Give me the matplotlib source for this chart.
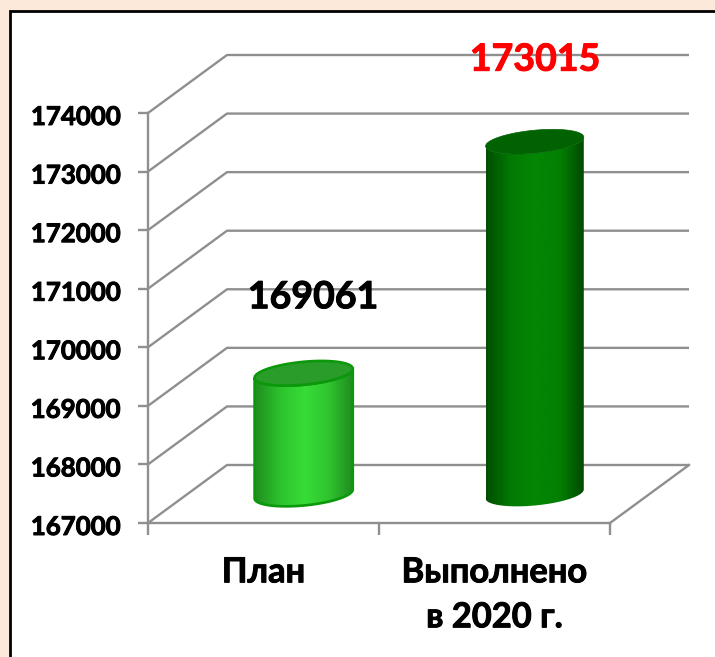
import numpy as np
import matplotlib
matplotlib.use("Agg")
import matplotlib.pyplot as plt
import matplotlib.patheffects as pe
from matplotlib.colors import LinearSegmentedColormap
from matplotlib.patches import Polygon, Rectangle
from matplotlib.transforms import ScaledTranslation

categories = ["План", "Выполнено\nв 2020 г."]
values = [169061, 173015]
y_ticks = [167000, 168000, 169000, 170000, 171000, 172000, 173000, 174000]
label_colors = ["black", "red"]

W, H = 715, 657
plt.rcParams["font.family"] = ["Lato", "Open Sans", "DejaVu Sans"]
plt.rcParams["font.weight"] = "bold"

GRID = "#8f8f8f"
DEPTH_PX = (79, 58)      # depth of the fake 3d box
BAR_W = 0.425
SEMI_B = 11.5            # ellipse half height, px
TILT = 4.5               # ellipse tilt, px


def heavy(color):
    # bold in the reference is a bit darker than Lato bold
    return [pe.withStroke(linewidth=0.7, foreground=color)]


fig = plt.figure(figsize=(W / 100, H / 100), dpi=100, facecolor="#fce9da")
fig.add_artist(Rectangle((9.5 / W, -0.01), (W + 5) / W, (H - 11) / H + 0.01,
                         transform=fig.transFigure, facecolor="white",
                         edgecolor="black", linewidth=2, zorder=-1))

ax = fig.add_axes([148 / W, 1 - 523 / H, 462 / W, 410 / H])
ax.set_xlim(-0.5, 1.5)
ax.set_ylim(y_ticks[0], y_ticks[-1])
ax.patch.set_alpha(0)

px_x = (ax.get_xlim()[1] - ax.get_xlim()[0]) / 462
px_y = (ax.get_ylim()[1] - ax.get_ylim()[0]) / 410
dx, dy = DEPTH_PX[0] * px_x, DEPTH_PX[1] * px_y
x0, x1 = ax.get_xlim()

# --- box ---
for v in y_ticks:
    ax.plot([x0, x0 + dx, x1 + dx], [v, v + dy, v + dy], color=GRID, lw=1.7,
            clip_on=False, solid_capstyle="butt", zorder=1)
ax.plot([x1, x1 + dx], [y_ticks[0], y_ticks[0] + dy], color=GRID, lw=1.7, clip_on=False, zorder=1)

# --- cylinders ---
light = LinearSegmentedColormap.from_list("l", ["#1f8f1f", "#2cc22c", "#37dc37", "#2fc42f", "#1e8a1e"])
dark = LinearSegmentedColormap.from_list("d", ["#004d00", "#037a03", "#038703", "#037e03", "#004800"])
tops = ["#2a9c2a", "#006200"]
edges = ["#0b980b", None]
cmaps = [light, dark]
t = np.linspace(0, 2 * np.pi, 121)
ramp = np.linspace(0, 1, 256).reshape(1, -1)

for i, v in enumerate(values):
    cx = i + dx / 2 + 0.003
    base = y_ticks[0] + dy / 2
    top = base + (v - y_ticks[0])
    ex = BAR_W / 2 * np.cos(t)
    ey = (TILT * np.cos(t) + SEMI_B * np.sin(t)) * px_y
    lower = t[60:]
    lx = BAR_W / 2 * np.cos(lower)
    ly = (TILT * np.cos(lower) + SEMI_B * np.sin(lower)) * px_y
    # body: lower half of the bottom ellipse, then back across the top
    body_x = np.r_[cx + lx, cx + lx[::-1]]
    body_y = np.r_[base + ly, top + ly[::-1]]
    body = Polygon(np.c_[body_x, body_y], closed=True, transform=ax.transData,
                   facecolor="none", edgecolor=edges[i] or "none", lw=1.9, zorder=4, clip_on=False)
    ax.add_patch(body)
    im = ax.imshow(ramp, cmap=cmaps[i], aspect="auto", zorder=3,
                   extent=[cx - BAR_W / 2, cx + BAR_W / 2, y_ticks[0], y_ticks[-1]])
    im.set_clip_path(body)
    ax.add_patch(Polygon(np.c_[cx + ex, top + ey], closed=True, facecolor=tops[i],
                         edgecolor=edges[i] or tops[i], lw=1.9 if edges[i] else 0.5,
                         zorder=5, clip_on=False))
ax.set_xlim(x0, x1)
ax.set_ylim(y_ticks[0], y_ticks[-1])

# --- labels on bars ---
offsets = [(10, 76), (1, 82)]
for i, v in enumerate(values):
    ax.annotate(str(v), (i + dx / 2, v + dy / 2), xytext=offsets[i], textcoords="offset pixels",
                ha="center", va="center", fontsize=27, color=label_colors[i],
                annotation_clip=False, zorder=6, path_effects=heavy(label_colors[i]))

# --- axes ---
for s in ("top", "right"):
    ax.spines[s].set_visible(False)
for s in ("left", "bottom"):
    ax.spines[s].set_color(GRID)
    ax.spines[s].set_linewidth(1.7)
ax.set_yticks(y_ticks)
ax.set_yticklabels([str(v) for v in y_ticks], fontsize=18.6, path_effects=heavy("black"))
ax.tick_params(axis="y", length=7, width=1.7, color=GRID, pad=12.5)
shift = ScaledTranslation(0, -2 / 100, fig.dpi_scale_trans)
for lbl in ax.get_yticklabels():
    lbl.set_transform(lbl.get_transform() + shift)
ax.set_xticks([-0.5, 0.5, 1.5])
ax.set_xticklabels([])
ax.set_xticks([0, 1], minor=True)
ax.set_xticklabels(categories, minor=True, fontsize=24.8, linespacing=1.5, path_effects=heavy("black"))
ax.tick_params(axis="x", which="major", length=8.5, width=1.7, color=GRID)
ax.tick_params(axis="x", which="minor", length=0, pad=24)

fig.savefig("out.png", dpi=100, facecolor=fig.get_facecolor())
